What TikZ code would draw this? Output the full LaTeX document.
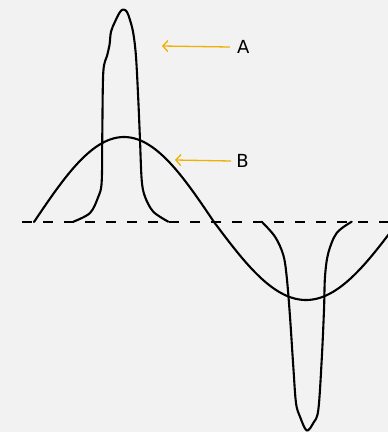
\documentclass[tikz,border=0pt]{standalone}
\usepackage{fontspec}
\setmainfont{DejaVu Sans}
\usetikzlibrary{arrows.meta}
\definecolor{bg}{HTML}{F2F2F2}
\definecolor{arr}{HTML}{F0B000}
\begin{document}
\begin{tikzpicture}[x=1pt,y=-1pt,
  curve/.style={line width=2.1pt,black,line join=round,line cap=round},
  axisline/.style={line width=1.4pt,black,dash pattern=on 10pt off 11pt},
  pointer/.style={line width=1.3pt,arr,-{Straight Barb[length=5pt,width=11pt,line width=1.3pt]}},
  lbl/.style={font=\fontsize{18}{18}\selectfont,inner sep=0pt,text=black}]
\fill[bg] (0,0) rectangle (388,432);
\useasboundingbox (0,0) rectangle (388,432);
\begin{scope}
\clip (0,0) rectangle (388,432);
% axis
\coordinate (axL) at (22,222);
\coordinate (axR) at (392,222);
\draw[axisline] (axL) -- (axR);
% sine B
\draw[curve] plot[domain=34:214,samples=80] (\x,{222-85*sin(\x-34)})
  -- plot[domain=214:392,samples=80] (\x,{222-78*sin(180+(\x-214)*90/92)});
% pulse A
\draw[curve] plot[smooth,tension=0.55] coordinates {
  (73.3,221.7) (90,213) (98.3,196.7) (101.7,181.7) (102.3,133) (103.3,72)
  (107,56) (109.5,45) (111,31.7) (115,21.7) (120,12) (123.5,9.5)
  (127,12) (130,20) (133.3,33.3) (136,56.7) (138.3,100) (140,140)
  (141.7,180) (145,196.7) (153.3,211.7) (168.3,221.7)};
% negative pulse
\draw[curve] plot[smooth,tension=0.55] coordinates {
  (261.7,221.7) (275,236.7) (283.3,255) (286.7,276.7) (290,316.7)
  (293.3,366.7) (296,403) (300,416.7) (306.7,430.5) (313.3,423)
  (318.3,410) (321.7,360) (324,310) (325,276.7) (328.3,253)
  (336.7,233) (351.7,221.7)};
\end{scope}
% labels
\node[lbl] (A) at (243.3,47) {A};
\node[lbl] (B) at (242.5,161) {B};
\coordinate (Atip) at (162,46);
\coordinate (Btip) at (175,160);
\draw[pointer] ([xshift=-7pt]A.west) -- (Atip);
\draw[pointer] ([xshift=-5pt]B.west) -- (Btip);
\end{tikzpicture}
\end{document}
